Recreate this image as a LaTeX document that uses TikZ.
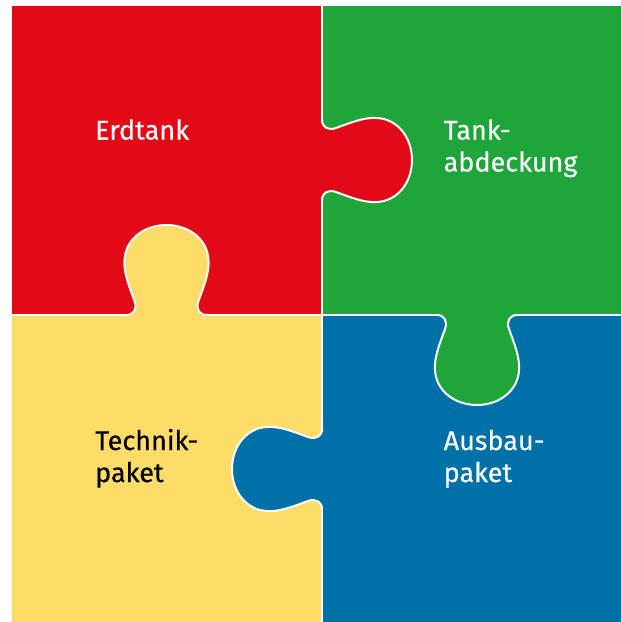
\documentclass[tikz,border=0pt]{standalone}
\usepackage{fontspec}
\setmainfont{Fira Sans}[FakeBold = 0.3]
\definecolor{erdrot}{HTML}{E20A17}
\definecolor{tankgruen}{HTML}{1EA63A}
\definecolor{technikgelb}{HTML}{FDDC68}
\definecolor{ausbaublau}{HTML}{0070A8}
\tikzset{
  seam/.style = {white, line width = 2pt, line cap = round},
  knob outline/.style = {insert path = {
    .. controls (-33,0) and (-29,6) .. (-32,14)
    .. controls (-37,28) and (-43,42) .. (-42,55)
    .. controls (-41,76) and (-22,90) .. (0,90)
    .. controls (22,90) and (41,76) .. (42,55)
    .. controls (43,42) and (37,28) .. (32,14)
    .. controls (29,6) and (33,0) .. (40,0)}},
  pics/knob/.style = {code = {
    \fill[#1] (-40,-2) -- (-40,0) [knob outline] -- (40,-2) -- cycle;
    \draw[seam] (-40,0) [knob outline];
  }},
  piece label/.style = {anchor = base west, inner sep = 0pt, align = left,
    font = \fontsize{27}{32}\selectfont, text = white}
}
\begin{document}
\begin{tikzpicture}[x = 1pt, y = -1pt]
\useasboundingbox (0,0) rectangle (621,622);

% the four pieces
\fill[erdrot] (12,6) rectangle (322,315);
\fill[tankgruen] (322,6) rectangle (621,315);
\fill[technikgelb] (12,315) rectangle (322,622);
\fill[ausbaublau] (322,315) rectangle (621,622);

% seams
\draw[seam] (322,6) -- (322,622);
\draw[seam] (12,315) -- (621,315);

% knobs
\pic[rotate = 90] at (322,160) {knob = erdrot};
\pic[rotate = 180] at (166.5,315) {knob = technikgelb};
\pic at (477,315) {knob = tankgruen};
\pic[rotate = -90] at (322,469) {knob = ausbaublau};

% base anchor sits on the last line
\node[piece label] (erdtank) at (95,139.5) {Erdtank};
\node[piece label] (abdeckung) at (443.5,171.5) {Tank-\\abdeckung};
\node[piece label, text = black] (technik) at (95,482) {Technik-\\paket};
\node[piece label] (ausbau) at (443.5,482) {Ausbau-\\paket};
\end{tikzpicture}
\end{document}
